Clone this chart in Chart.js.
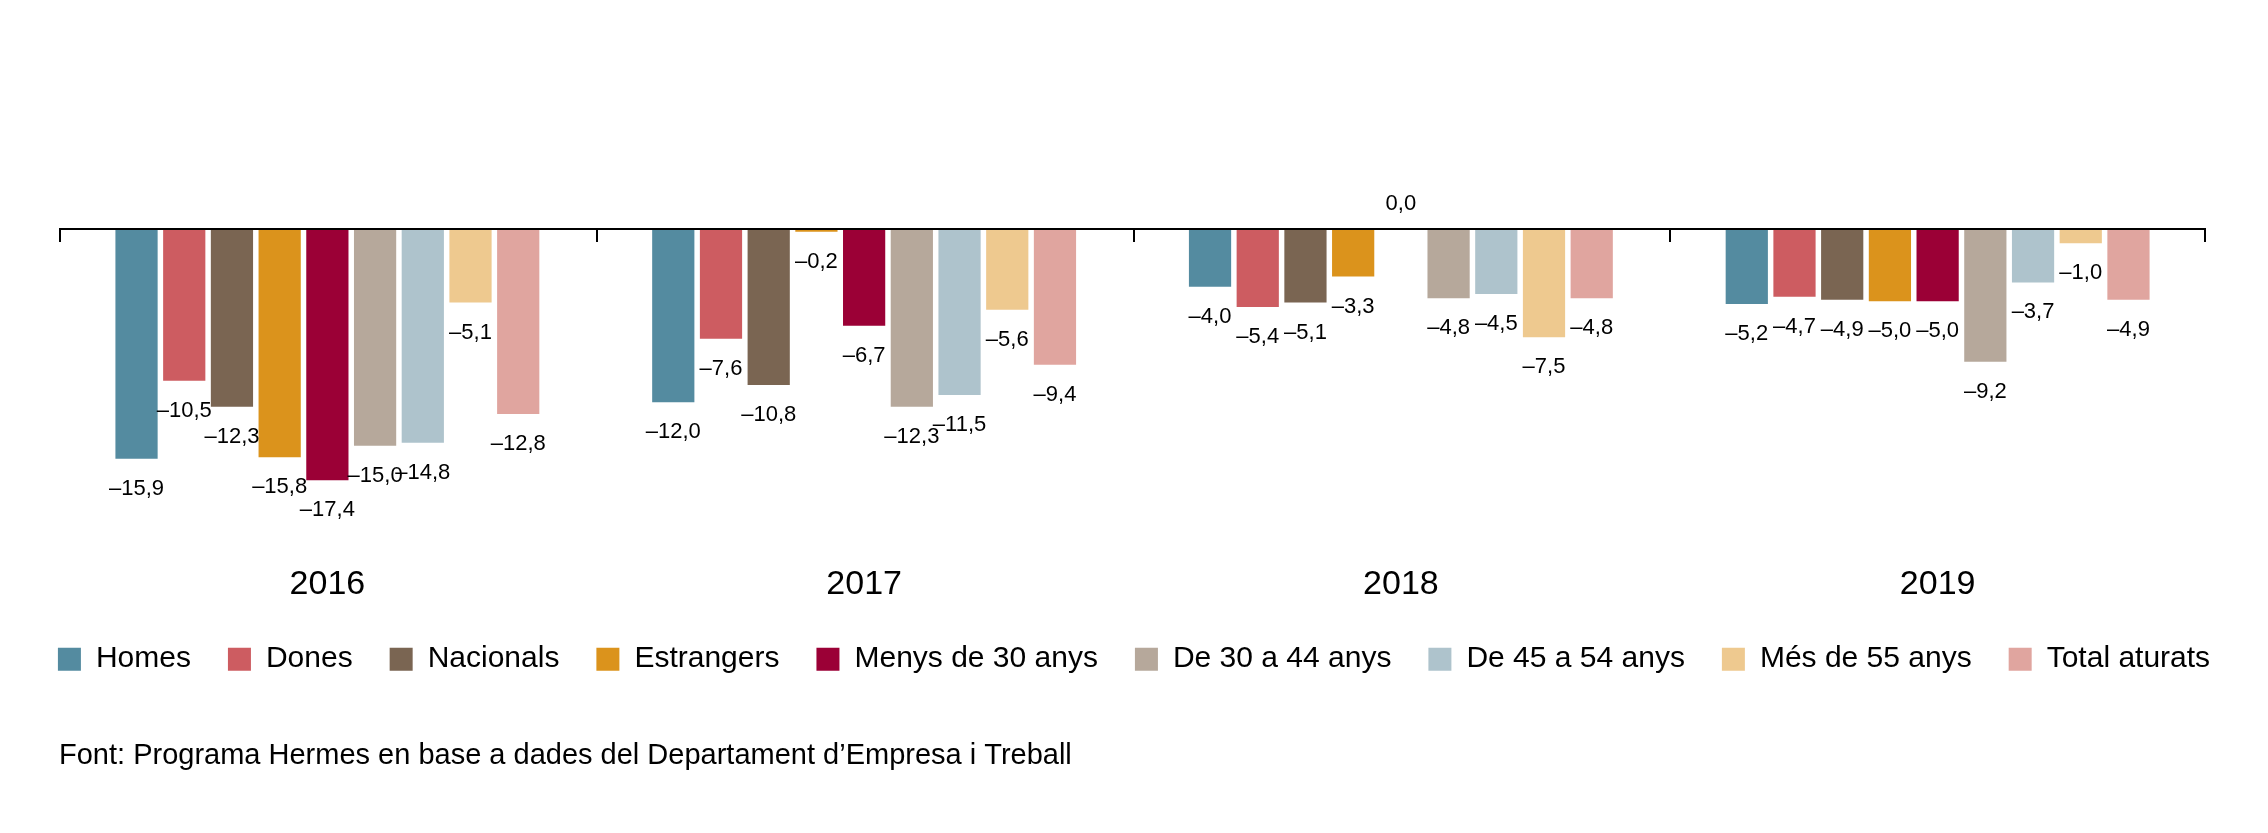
<!DOCTYPE html>
<html>
<head>
<meta charset="utf-8">
<script src="https://cdn.jsdelivr.net/npm/chart.js@4.4.1/dist/chart.umd.min.js"></script>
<style>
  html, body { margin: 0; padding: 0; background: #ffffff; }
  #wrap { width: 2268px; height: 833px; position: relative; }
</style>
</head>
<body>
<div id="wrap"><canvas id="c" width="2268" height="833"></canvas></div>
<script>
const years = ['2016', '2017', '2018', '2019'];
const seriesNames = ['Homes', 'Dones', 'Nacionals', 'Estrangers', 'Menys de 30 anys', 'De 30 a 44 anys', 'De 45 a 54 anys', 'Més de 55 anys', 'Total aturats'];
const homes       = [-15.9, -12.0, -4.0, -5.2];
const dones       = [-10.5, -7.6, -5.4, -4.7];
const nacionals   = [-12.3, -10.8, -5.1, -4.9];
const estrangers  = [-15.8, -0.2, -3.3, -5.0];
const menys30     = [-17.4, -6.7, 0.0, -5.0];
const de30a44     = [-15.0, -12.3, -4.8, -9.2];
const de45a54     = [-14.8, -11.5, -4.5, -3.7];
const mes55       = [-5.1, -5.6, -7.5, -1.0];
const totalAturats = [-12.8, -9.4, -4.8, -4.9];
const seriesValues = [homes, dones, nacionals, estrangers, menys30, de30a44, de45a54, mes55, totalAturats];
const seriesColors = ['#548ba0', '#cd5c61', '#7a6552', '#db931c', '#9b0036', '#b6a89b', '#aec3cc', '#eec98f', '#e0a59f'];
const sourceNote = 'Font: Programa Hermes en base a dades del Departament d\u2019Empresa i Treball';

const FONT = "'Liberation Sans', Arial, Helvetica, sans-serif";

function fmt(v) {
  const s = Math.abs(v).toFixed(1).replace('.', ',');
  return v < 0 ? '\u2013' + s : s;
}

const zeroAxisPlugin = {
  id: 'zeroAxis',
  afterDatasetsDraw(chart) {
    const ctx = chart.ctx;
    const x = chart.scales.x, y = chart.scales.y;
    const y0 = y.getPixelForValue(0);
    const n = chart.data.labels.length;
    ctx.save();
    ctx.strokeStyle = '#000';
    ctx.lineWidth = 2;
    ctx.beginPath();
    ctx.moveTo(x.left, y0);
    ctx.lineTo(x.right, y0);
    ctx.stroke();
    const step = (x.right - x.left) / n;
    for (let i = 0; i <= n; i++) {
      const px = Math.round(x.left + i * step) + (i === n ? -1 : 1);
      ctx.beginPath();
      ctx.moveTo(px, y0);
      ctx.lineTo(px, y0 + 13);
      ctx.stroke();
    }
    ctx.restore();
  }
};

const valueLabelPlugin = {
  id: 'valueLabels',
  afterDatasetsDraw(chart) {
    const ctx = chart.ctx;
    ctx.save();
    ctx.font = '22px ' + FONT;
    ctx.fillStyle = '#000';
    ctx.textAlign = 'center';
    ctx.textBaseline = 'middle';
    chart.data.datasets.forEach((ds, di) => {
      const meta = chart.getDatasetMeta(di);
      meta.data.forEach((bar, i) => {
        const v = ds.data[i];
        const yy = v < 0 ? bar.y + 30 : bar.y - 25;
        ctx.fillText(fmt(v), bar.x, yy);
      });
    });
    ctx.restore();
  }
};

const hiddenSide = (w) => ({
  display: true,
  grid: { display: false, drawTicks: false },
  border: { display: false },
  ticks: { display: false },
  afterFit(scale) { scale.width = w; }
});

new Chart(document.getElementById('c'), {
  type: 'bar',
  data: {
    labels: years,
    datasets: seriesNames.map((name, i) => ({
      label: name,
      data: seriesValues[i],
      backgroundColor: seriesColors[i],
      borderWidth: 0,
      categoryPercentage: 0.8,
      barPercentage: 0.885
    }))
  },
  options: {
    responsive: false,
    animation: false,
    devicePixelRatio: 1,
    layout: { padding: { top: 200, bottom: 60, left: 0, right: 0 } },
    scales: {
      x: {
        grid: { display: false, drawTicks: false },
        border: { display: false },
        ticks: { color: '#000', padding: 0, font: { family: FONT, size: 34, lineHeight: 1.35 } }
      },
      y: Object.assign(hiddenSide(59), { position: 'left', min: -23, max: 2 }),
      y2: Object.assign(hiddenSide(62), { position: 'right', min: -23, max: 2 })
    },
    plugins: {
      legend: {
        position: 'bottom',
        align: 'center',
        labels: {
          boxWidth: 23,
          boxHeight: 23,
          padding: 37,
          color: '#000',
          font: { family: FONT, size: 30 }
        }
      },
      title: {
        display: true,
        position: 'bottom',
        align: 'start',
        fullSize: false,
        text: sourceNote,
        color: '#000',
        padding: { top: 54, bottom: 0 },
        font: { family: FONT, size: 29, weight: 'normal' }
      },
      tooltip: { enabled: false }
    }
  },
  plugins: [zeroAxisPlugin, valueLabelPlugin]
});
</script>
</body>
</html>
